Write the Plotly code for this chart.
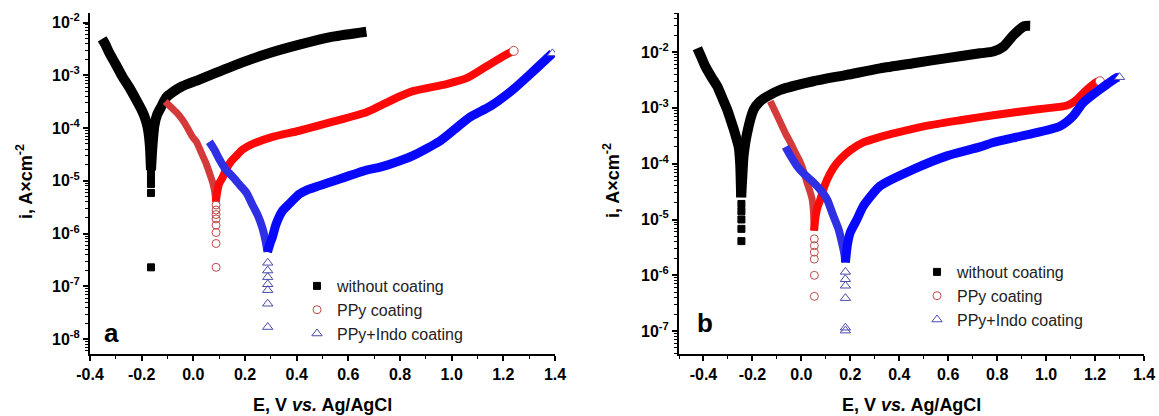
import numpy as np
import plotly.graph_objects as go

W, H = 1159, 416

# ---------------- data: panel a ----------------
a_bare_cat_E = [-0.353, -0.340, -0.326, -0.300, -0.275, -0.248, -0.222, -0.200, -0.190, -0.180, -0.174, -0.168, -0.164]
a_bare_cat_i = [4.9e-3, 3.8e-3, 2.7e-3, 1.6e-3, 9.5e-4, 5.9e-4, 3.5e-4, 2.2e-4, 1.7e-4, 1.2e-4, 8.5e-5, 4.5e-5, 1.6e-5]
a_bare_an_E = [-0.164, -0.160, -0.156, -0.151, -0.140, -0.125, -0.105, -0.080, -0.043, 0.023, 0.089, 0.150, 0.280, 0.410, 0.540, 0.670]
a_bare_an_i = [1.6e-5, 3.5e-5, 6.3e-5, 1.1e-4, 1.8e-4, 2.5e-4, 3.8e-4, 4.8e-4, 6.2e-4, 8.3e-4, 1.12e-3, 1.48e-3, 2.5e-3, 3.8e-3, 5.4e-3, 6.7e-3]
a_bare_pts_E = [-0.164, -0.164, -0.164, -0.164, -0.164]
a_bare_pts_i = [1.4e-5, 1.1e-5, 8.7e-6, 5.9e-6, 2.3e-7]

a_ppy_cat_E = [-0.109, -0.090, -0.066, -0.045, -0.028, -0.004, 0.012, 0.030, 0.050, 0.065, 0.076, 0.083, 0.087]
a_ppy_cat_i = [3.2e-4, 2.6e-4, 2.0e-4, 1.5e-4, 1.12e-4, 6.9e-5, 5.5e-5, 3.5e-5, 2.1e-5, 1.3e-5, 8.9e-6, 6.0e-6, 4.0e-6]
a_ppy_an_E = [0.087, 0.092, 0.100, 0.113, 0.128, 0.145, 0.167, 0.190, 0.230, 0.307, 0.410, 0.540, 0.670, 0.720, 0.800, 0.850, 0.980, 1.060, 1.135, 1.210, 1.240]
a_ppy_an_i = [4.0e-6, 6.0e-6, 8.9e-6, 1.15e-5, 1.7e-5, 2.3e-5, 3.0e-5, 3.9e-5, 5.0e-5, 6.8e-5, 8.9e-5, 1.32e-4, 2.0e-4, 2.6e-4, 4.0e-4, 5.0e-4, 6.8e-4, 8.9e-4, 1.48e-3, 2.45e-3, 2.9e-3]
a_ppy_pts_E = [0.088, 0.088, 0.088, 0.088, 0.088, 0.088, 0.088, 0.088]
a_ppy_pts_i = [3.5e-6, 2.8e-6, 2.3e-6, 1.9e-6, 1.45e-6, 1.05e-6, 6.5e-7, 2.3e-7]

a_indo_cat_E = [0.062, 0.080, 0.100, 0.125, 0.152, 0.180, 0.205, 0.229, 0.250, 0.267, 0.280, 0.287]
a_indo_cat_i = [5.5e-5, 4.0e-5, 2.6e-5, 1.65e-5, 1.2e-5, 8.3e-6, 6.0e-6, 3.5e-6, 2.2e-6, 1.3e-6, 7.1e-7, 4.5e-7]
a_indo_an_E = [0.287, 0.296, 0.307, 0.320, 0.345, 0.372, 0.410, 0.437, 0.540, 0.670, 0.720, 0.800, 0.850, 0.950, 1.000, 1.070, 1.150, 1.240, 1.310, 1.390]
a_indo_an_i = [4.5e-7, 6.3e-7, 8.9e-7, 1.5e-6, 2.7e-6, 3.7e-6, 5.6e-6, 6.6e-6, 9.8e-6, 1.6e-5, 1.8e-5, 2.4e-5, 3.0e-5, 5.5e-5, 8.5e-5, 1.6e-4, 2.6e-4, 5.5e-4, 1.12e-3, 2.6e-3]
a_indo_pts_E = [0.288, 0.288, 0.288, 0.288, 0.288, 0.288, 0.288]
a_indo_pts_i = [2.8e-7, 2.0e-7, 1.5e-7, 1.1e-7, 8.5e-8, 4.7e-8, 1.7e-8]

# ---------------- data: panel b ----------------
b_bare_cat_E = [-0.425, -0.410, -0.392, -0.368, -0.344, -0.323, -0.303, -0.290, -0.276, -0.265, -0.256, -0.250, -0.246]
b_bare_cat_i = [1.17e-2, 8.3e-3, 5.5e-3, 3.6e-3, 2.45e-3, 1.5e-3, 9.3e-4, 6.3e-4, 4.1e-4, 2.8e-4, 2.0e-4, 1.0e-4, 2.5e-5]
b_bare_an_E = [-0.246, -0.241, -0.236, -0.222, -0.195, -0.170, -0.140, -0.086, 0.049, 0.186, 0.322, 0.457, 0.595, 0.730, 0.784, 0.826, 0.866, 0.910, 0.935]
b_bare_an_i = [2.5e-5, 6.3e-5, 1.4e-4, 3.5e-4, 9.3e-4, 1.3e-3, 1.6e-3, 2.1e-3, 3.0e-3, 3.9e-3, 5.1e-3, 6.3e-3, 7.8e-3, 9.5e-3, 1.02e-2, 1.26e-2, 2.0e-2, 2.9e-2, 2.95e-2]
b_bare_pts_E = [-0.245, -0.245, -0.245, -0.245, -0.245]
b_bare_pts_i = [1.9e-5, 1.4e-5, 1.0e-5, 6.8e-6, 4.1e-6]

b_ppy_cat_E = [-0.127, -0.105, -0.086, -0.065, -0.045, -0.025, -0.004, 0.010, 0.023, 0.035, 0.044, 0.050, 0.052]
b_ppy_cat_i = [1.32e-3, 8.3e-4, 5.5e-4, 3.5e-4, 2.4e-4, 1.6e-4, 1.05e-4, 7.1e-5, 4.6e-5, 3.2e-5, 2.3e-5, 1.26e-5, 6.3e-6]
b_ppy_an_E = [0.052, 0.058, 0.066, 0.078, 0.090, 0.105, 0.130, 0.159, 0.200, 0.253, 0.320, 0.390, 0.527, 0.649, 0.784, 0.922, 1.000, 1.085, 1.125, 1.167, 1.208, 1.220]
b_ppy_an_i = [6.3e-6, 1.12e-5, 1.66e-5, 2.3e-5, 3.5e-5, 5.2e-5, 8.3e-5, 1.2e-4, 1.74e-4, 2.4e-4, 3.0e-4, 3.6e-4, 4.9e-4, 6.0e-4, 7.4e-4, 8.9e-4, 9.8e-4, 1.1e-3, 1.41e-3, 2.14e-3, 2.95e-3, 3.0e-3]
b_ppy_pts_E = [0.053, 0.053, 0.053, 0.053, 0.053, 0.053]
b_ppy_pts_i = [4.5e-6, 3.4e-6, 2.6e-6, 1.95e-6, 1.0e-6, 4.2e-7]

b_indo_cat_E = [-0.065, -0.045, -0.018, 0.015, 0.050, 0.080, 0.105, 0.131, 0.150, 0.165, 0.175, 0.180]
b_indo_cat_i = [2.0e-4, 1.4e-4, 9.1e-5, 6.3e-5, 4.6e-5, 3.3e-5, 2.3e-5, 1.15e-5, 7.1e-6, 4.0e-6, 2.5e-6, 1.7e-6]
b_indo_an_E = [0.180, 0.188, 0.200, 0.227, 0.253, 0.322, 0.457, 0.595, 0.730, 0.784, 0.922, 1.057, 1.110, 1.151, 1.220, 1.290, 1.300]
b_indo_an_i = [1.7e-6, 3.5e-6, 5.9e-6, 1.0e-5, 1.74e-5, 4.0e-5, 7.9e-5, 1.38e-4, 2.0e-4, 2.4e-4, 3.3e-4, 4.7e-4, 7.1e-4, 1.23e-3, 2.14e-3, 3.5e-3, 3.55e-3]
b_indo_pts_E = [0.180, 0.180, 0.180, 0.180, 0.180, 0.180]
b_indo_pts_i = [1.15e-6, 8.5e-7, 6.5e-7, 3.9e-7, 1.15e-7, 1.02e-7]

series_names = ["without coating", "PPy coating", "PPy+Indo coating"]

x_tick_vals = [-0.4, -0.2, 0.0, 0.2, 0.4, 0.6, 0.8, 1.0, 1.2, 1.4]
x_tick_text = ["-0.4", "-0.2", "0.0", "0.2", "0.4", "0.6", "0.8", "1.0", "1.2", "1.4"]
a_y_exp = [-8, -7, -6, -5, -4, -3, -2]
b_y_exp = [-7, -6, -5, -4, -3, -2]

# ---------------- styling ----------------
FONT = "Liberation Sans, Arial, sans-serif"
BLACK = "#000000"
RED, RED_CAT, RED_PT = "#ff0808", "#d43a3a", "#c04848"
BLUE, BLUE_CAT, BLUE_PT = "#0808ff", "#2f2fe4", "#4a4aaa"

fig = go.Figure()


def band(E, I, color, width, xa, ya):
    fig.add_trace(go.Scatter(
        x=E, y=I, mode="lines", xaxis=xa, yaxis=ya, showlegend=False,
        line=dict(color=color, width=width, shape="spline", smoothing=0.6),
        hoverinfo="skip"))


def points(E, I, name, symbol, color, size, xa, ya, legend):
    fig.add_trace(go.Scatter(
        x=E, y=I, mode="markers", name=name, xaxis=xa, yaxis=ya, legend=legend,
        marker=dict(symbol=symbol, size=size, color=color,
                    line=dict(color=color, width=1))))


def end_cap(E, I, symbol, color, xa, ya):
    fig.add_trace(go.Scatter(
        x=[E[-1]], y=[I[-1]], mode="markers", xaxis=xa, yaxis=ya, showlegend=False,
        marker=dict(symbol=symbol, size=9, color="white", line=dict(color=color, width=1))))


for xa, ya, leg, d in [
    ("x", "y", "legend", dict(
        bare=(a_bare_cat_E, a_bare_cat_i, a_bare_an_E, a_bare_an_i, a_bare_pts_E, a_bare_pts_i),
        ppy=(a_ppy_cat_E, a_ppy_cat_i, a_ppy_an_E, a_ppy_an_i, a_ppy_pts_E, a_ppy_pts_i),
        indo=(a_indo_cat_E, a_indo_cat_i, a_indo_an_E, a_indo_an_i, a_indo_pts_E, a_indo_pts_i))),
    ("x2", "y2", "legend2", dict(
        bare=(b_bare_cat_E, b_bare_cat_i, b_bare_an_E, b_bare_an_i, b_bare_pts_E, b_bare_pts_i),
        ppy=(b_ppy_cat_E, b_ppy_cat_i, b_ppy_an_E, b_ppy_an_i, b_ppy_pts_E, b_ppy_pts_i),
        indo=(b_indo_cat_E, b_indo_cat_i, b_indo_an_E, b_indo_an_i, b_indo_pts_E, b_indo_pts_i))),
]:
    cE, cI, aE, aI, pE, pI = d["bare"]
    band(cE, cI, BLACK, 10, xa, ya)
    band(aE, aI, BLACK, 10, xa, ya)
    points(pE, pI, series_names[0], "square", BLACK, 7, xa, ya, leg)

    cE, cI, aE, aI, pE, pI = d["ppy"]
    band(cE, cI, RED_CAT, 7, xa, ya)
    band(aE, aI, RED, 8, xa, ya)
    points(pE, pI, series_names[1], "circle-open", RED_PT, 8, xa, ya, leg)
    end_cap(aE, aI, "circle", RED_PT, xa, ya)

    cE, cI, aE, aI, pE, pI = d["indo"]
    band(cE, cI, BLUE_CAT, 8, xa, ya)
    band(aE, aI, BLUE, 9, xa, ya)
    points(pE, pI, series_names[2], "triangle-up-open", BLUE_PT, 9, xa, ya, leg)
    end_cap(aE, aI, "triangle-up", BLUE_PT, xa, ya)


def log_minor(exps_lo, exps_hi):
    return [m * 10.0 ** e for e in range(exps_lo, exps_hi + 1) for m in range(2, 10)]


def y_axis(exps, rng, anchor):
    return dict(
        type="log", range=rng, domain=[1 - 354 / H, 1 - 13 / H], anchor=anchor,
        tickvals=[10.0 ** e for e in exps],
        ticktext=[f"10<sup>{e}</sup>" for e in exps],
        ticks="outside", ticklen=5, tickwidth=1.5, tickcolor=BLACK,
        minor=dict(tickvals=log_minor(exps[0] - 1, exps[-1]), ticks="outside",
                   ticklen=3, tickwidth=1, tickcolor=BLACK, showgrid=False),
        showline=True, linewidth=2, linecolor=BLACK, mirror=False,
        showgrid=False, zeroline=False, automargin=False,
        tickfont=dict(family=FONT, size=16, color=BLACK, weight="bold"))


def x_axis(rng, domain, anchor):
    return dict(
        range=rng, domain=domain, anchor=anchor,
        tickvals=x_tick_vals, ticktext=x_tick_text,
        ticks="outside", ticklen=5, tickwidth=1.5, tickcolor=BLACK,
        minor=dict(dtick=0.1, tick0=-0.5, ticks="outside", ticklen=3, tickwidth=1,
                   tickcolor=BLACK, showgrid=False),
        showline=True, linewidth=2, linecolor=BLACK, mirror=False,
        showgrid=False, zeroline=False, automargin=False,
        tickfont=dict(family=FONT, size=16, color=BLACK, weight="bold"))


xa_dom = [90 / W, 555 / W]
xb_dom = [679 / W, 1144 / W]

legend_style = dict(xanchor="left", yanchor="top", bgcolor="rgba(0,0,0,0)",
                    font=dict(family=FONT, size=16, color="#222222"),
                    itemwidth=30, tracegroupgap=0)

fig.update_layout(
    width=W, height=H, margin=dict(l=0, r=0, t=0, b=0, autoexpand=False),
    paper_bgcolor="white", plot_bgcolor="white",
    xaxis=x_axis([-0.4, 1.4], xa_dom, "y"),
    yaxis=y_axis(a_y_exp, [-8.28, -1.82], "x"),
    xaxis2=x_axis([-0.5, 1.4], xb_dom, "y2"),
    yaxis2=y_axis(b_y_exp, [-7.41, -1.30], "x2"),
    legend=dict(x=297 / W, y=1 - 269 / H, **legend_style),
    legend2=dict(x=917 / W, y=1 - 255 / H, **legend_style),
)

title_font = dict(family=FONT, size=18, color=BLACK)
for cx in [(90 + 555) / 2, (679 + 1144) / 2]:
    fig.add_annotation(text="<b>E, V <i>vs.</i> Ag/AgCl</b>", xref="paper", yref="paper",
                       x=cx / W, y=1 - 405 / H, xanchor="center", yanchor="middle",
                       showarrow=False, font=title_font)
for cx in [24, 611]:
    fig.add_annotation(text="<b>i, A×cm<sup>-2</sup></b>", xref="paper", yref="paper",
                       x=cx / W, y=1 - 181 / H, xanchor="center", yanchor="middle",
                       textangle=-90, showarrow=False, font=title_font)
for lbl, cx, cy in [("a", 111, 333), ("b", 705, 323)]:
    fig.add_annotation(text=f"<b>{lbl}</b>", xref="paper", yref="paper",
                       x=cx / W, y=1 - cy / H, xanchor="center", yanchor="middle",
                       showarrow=False, font=dict(family=FONT, size=26, color=BLACK))

fig.write_html("out.html")
